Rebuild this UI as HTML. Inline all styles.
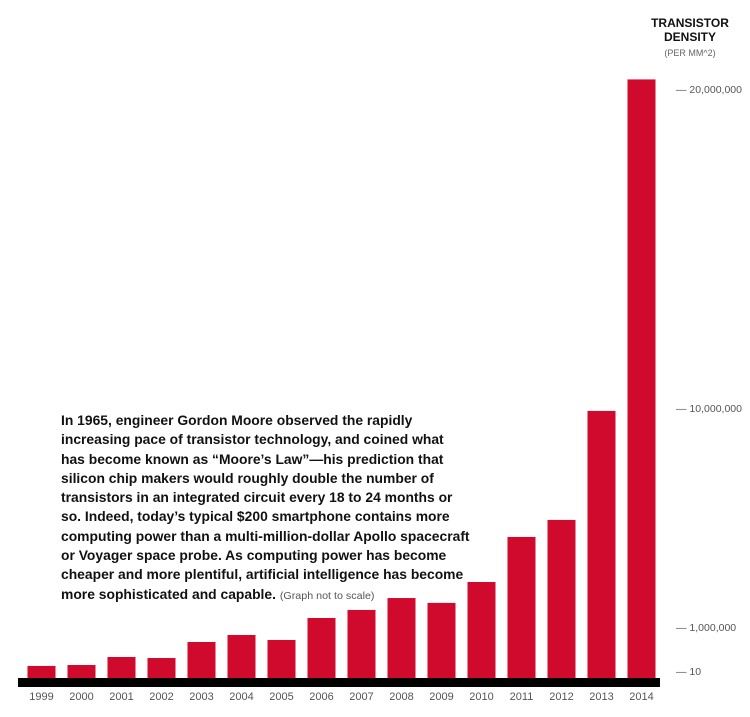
<!DOCTYPE html>
<html><head><meta charset="utf-8"><style>
body{margin:0;background:#fff;width:750px;height:717px;overflow:hidden;font-family:"Liberation Sans",sans-serif;}
#desc{position:absolute;left:61px;top:411px;white-space:nowrap;font-size:13.6px;line-height:19.3px;font-weight:bold;color:#111;transform:scaleX(1.02);transform-origin:0 0;}
#desc span{font-weight:normal;font-size:10.5px;color:#555;}
</style></head><body>
<svg id="chart" width="750" height="717" style="position:absolute;left:0;top:0">
<text x="690" y="27" text-anchor="middle" font-size="12" font-weight="bold" fill="#111">TRANSISTOR</text>
<text x="690" y="41" text-anchor="middle" font-size="12" font-weight="bold" fill="#111">DENSITY</text>
<text x="690" y="56" text-anchor="middle" font-size="9" fill="#666">(PER MM^2)</text>
<g id="bars"></g><g id="ticks"></g><g id="xlabels"></g>
<rect x="18" y="678" width="642" height="9" fill="#000"/>
</svg>
<div id="desc">In 1965, engineer Gordon Moore observed the rapidly<br>increasing pace of transistor technology, and coined what<br>has become known as “Moore’s Law”—his prediction that<br>silicon chip makers would roughly double the number of<br>transistors in an integrated circuit every 18 to 24 months or<br>so. Indeed, today’s typical $200 smartphone contains more<br>computing power than a multi-million-dollar Apollo spacecraft<br>or Voyager space probe. As computing power has become<br>cheaper and more plentiful, artificial intelligence has become<br>more sophisticated and capable. <span>(Graph not to scale)</span></div>
<script>
const years=["1999","2000","2001","2002","2003","2004","2005","2006","2007","2008","2009","2010","2011","2012","2013","2014"];
const density=[115000,136000,318000,295000,659000,818000,705000,1370000,1700000,2190000,1990000,2850000,4700000,5400000,9880000,20300000];
const tickValues=[10,1000000,10000000,20000000];
const tickLabels=["10","1,000,000","10,000,000","20,000,000"];
const domainStops=[10,1000000,10000000,20000000];
const rangeStops=[671,627,408,89];
function y(v){
  for(let i=0;i<domainStops.length-1;i++){
    if(v<=domainStops[i+1]||i===domainStops.length-2){
      const t=(v-domainStops[i])/(domainStops[i+1]-domainStops[i]);
      return rangeStops[i]+t*(rangeStops[i+1]-rangeStops[i]);
    }
  }
}
function x(i){return 27.5+i*40;}
const NS="http://www.w3.org/2000/svg";
const bars=document.getElementById('bars'),ticks=document.getElementById('ticks'),xl=document.getElementById('xlabels');
years.forEach((yr,i)=>{
  const r=document.createElementNS(NS,'rect');
  const top=y(density[i]);
  r.setAttribute('x',x(i));r.setAttribute('y',top);r.setAttribute('width',28);r.setAttribute('height',680-top);r.setAttribute('fill','#d00a2c');
  
  
  bars.appendChild(r);
  const t=document.createElementNS(NS,'text');
  t.setAttribute('x',x(i)+14);t.setAttribute('y',700);t.setAttribute('text-anchor','middle');t.setAttribute('font-size','11');t.setAttribute('fill','#555');
  t.textContent=yr;
  
  
  xl.appendChild(t);
});
tickValues.forEach((v,i)=>{
  const t=document.createElementNS(NS,'text');
  t.setAttribute('x',676);t.setAttribute('y',y(v)+4);t.setAttribute('font-size','10.5');t.setAttribute('fill','#555');
  t.textContent='— '+tickLabels[i];
  
  
  ticks.appendChild(t);
});
</script>
</body></html>
